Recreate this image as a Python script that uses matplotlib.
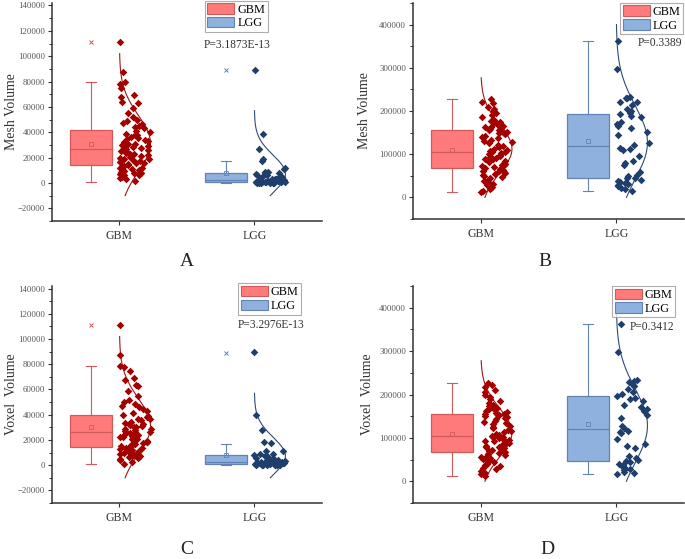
import matplotlib
matplotlib.use("Agg")
import matplotlib.pyplot as plt
import numpy as np
from matplotlib.patches import Patch
from matplotlib.ticker import MultipleLocator

plt.rcParams["font.family"] = ["Liberation Serif", "DejaVu Serif"]

groups = ["GBM", "LGG"]

# ---- A: Mesh Volume (small scale) ----
gbm_mesh_a = [111500, 87500, 79500, 78000, 75000, 69000, 68000, 64000, 63000, 59000,
              55000, 52000, 50000, 49000, 47500, 46500, 45000, 44000, 43000,
              41000, 40000, 39000, 38000, 37500, 36500, 35500, 34500, 33500, 33000,
              32000, 31000, 30500, 30000, 29000, 28500, 28000, 27500, 27000,
              26000, 25500, 25000, 24000, 23000, 22500, 22000, 21000, 20500, 20000,
              19000, 18500, 18000, 17500, 17000, 16500, 16000, 15500, 15000,
              14000, 13500, 13000, 12000, 11500, 11000, 10500, 10000, 9500, 9000,
              8000, 7500, 7000, 6500, 6000, 5000, 4000, 3000, 1500]
lgg_mesh_a = [89000, 38500, 27000, 18500, 17500, 11500, 11000, 9000, 8500, 8000,
              7500, 7000, 6500, 6000, 5000, 4500, 4000, 3500, 3000, 2800, 2500,
              2300, 2000, 2000, 1800, 1600, 1500, 1400, 1200, 1100, 1000, 1000,
              900, 800, 700, 600, 500, 400, 300, 300, 200, 100, 100, 0]
# box stats
gbm_box_a = dict(q1=14400, med=26700, q3=42100, whislo=1000, whishi=79700,
                 mean=30800, fliers=[111500])
lgg_box_a = dict(q1=1000, med=2100, q3=7800, whislo=-300, whishi=17000,
                 mean=7600, fliers=[89000])

# ---- B: Mesh Volume (large scale) ----
gbm_mesh_b = [13000, 16000, 20000, 24000, 28000, 31000, 35000, 38000, 41000, 44000,
              47000, 50000, 52000, 54000, 56000, 58000, 60000, 62000, 64000, 66000,
              68000, 70000, 72000, 74000, 76000, 78000, 80000, 82000, 84000, 86000,
              88000, 90000, 92000, 94000, 96000, 98000, 100000, 102000, 104000, 105000,
              107000, 110000, 113000, 116000, 119000, 122000, 125000, 128000, 131000,
              134000, 137000, 140000, 143000, 146000, 148000, 150000, 152000, 154000,
              155000, 156000, 158000, 160000, 162000, 164000, 166000, 168000, 170000,
              172000, 174000, 176000, 180000, 185000, 190000, 195000, 200000, 205000,
              210000, 218000, 222000, 227000]
lgg_mesh_b = [362000, 298000, 233000, 231000, 229000, 222000, 220000, 213000, 205000,
              200000, 196000, 192000, 188000, 185000, 175000, 170000, 165000, 160000,
              152000, 145000, 126000, 122000, 115000, 112000, 110000, 96000, 85000,
              80000, 76000, 58000, 52000, 49000, 46000, 44000, 40000, 38000, 36000,
              33000, 31000, 29000, 26000, 22000, 19000, 16000]
gbm_box_b = dict(q1=67000, med=105600, q3=156500, whislo=13000, whishi=227000,
                 mean=109000, fliers=[])
lgg_box_b = dict(q1=45500, med=120000, q3=194000, whislo=16000, whishi=362000,
                 mean=129500, fliers=[])

# ---- C: Voxel Volume (small scale) ----
gbm_voxel_c = [111000, 87500, 79000, 77500, 75000, 69000, 67500, 63500, 62500, 58500,
               54500, 51500, 50000, 48500, 47000, 46000, 44500, 43000, 41000,
               40000, 39000, 38000, 37000, 36500, 35500, 34500, 33500, 33000, 32500,
               32000, 31000, 30500, 30000, 29000, 28500, 28000, 27000, 26500,
               26000, 25500, 25000, 24000, 23000, 22500, 22000, 21000, 20500, 20000,
               19000, 18500, 18000, 17500, 17000, 16500, 16000, 15500, 15000,
               14000, 13500, 13000, 12000, 11500, 11000, 10500, 10000, 9500, 9000,
               8000, 7500, 7000, 6500, 6000, 5000, 4000, 2500, 1300]
lgg_voxel_c = [89500, 39500, 27500, 18500, 17500, 11500, 11000, 9000, 8500, 8000,
               7500, 7000, 6500, 6000, 5000, 4500, 4000, 3500, 3000, 2800, 2600,
               2400, 2200, 2000, 1800, 1600, 1500, 1400, 1300, 1200, 1000, 1000,
               900, 800, 700, 600, 500, 400, 300, 300, 200, 100, 100, 0]
gbm_box_c = dict(q1=14300, med=26500, q3=39700, whislo=1300, whishi=79000,
                 mean=30600, fliers=[111000])
lgg_box_c = dict(q1=1300, med=2600, q3=7800, whislo=0, whishi=16900,
                 mean=7800, fliers=[89000])

# ---- D: Voxel Volume (large scale) ----
gbm_voxel_d = [12000, 16000, 20000, 24000, 28000, 31000, 35000, 38000, 41000, 44000,
               47000, 50000, 52000, 54000, 56000, 58000, 60000, 62000, 64000, 66000,
               68000, 70000, 72000, 74000, 76000, 78000, 80000, 82000, 84000, 86000,
               88000, 90000, 92000, 94000, 96000, 98000, 100000, 102000, 103000, 104500,
               107000, 110000, 113000, 116000, 119000, 122000, 125000, 128000, 131000,
               134000, 137000, 140000, 143000, 146000, 148000, 150000, 152000, 153000,
               154500, 155500, 158000, 160000, 162000, 164000, 166000, 168000, 170000,
               172000, 174000, 176000, 180000, 185000, 190000, 195000, 200000, 205000,
               210000, 218000, 221000, 226000]
lgg_voxel_d = [362000, 298000, 233000, 231000, 229000, 222000, 220000, 213000, 206000,
               201000, 197000, 193000, 189000, 186000, 176000, 171000, 166000, 161000,
               153000, 146000, 127000, 123000, 116000, 113000, 111000, 97000, 86000,
               81000, 77000, 58000, 53000, 50000, 47000, 45000, 41000, 38000, 36000,
               33000, 31000, 29000, 26000, 22000, 19000, 17000]
gbm_box_d = dict(q1=67000, med=105000, q3=155700, whislo=11600, whishi=226600,
                 mean=109400, fliers=[])
lgg_box_d = dict(q1=46200, med=121000, q3=195800, whislo=17000, whishi=362000,
                 mean=131000, fliers=[])

# range over which the fitted normal curves are drawn
curve_a = [(-10000, 102000), (-10000, 57000)]
curve_b = [(0, 277000), (0, 400000)]
curve_c = [(-10000, 102000), (-10000, 57000)]
curve_d = [(0, 278000), (0, 392000)]

p_values = ["P=3.1873E-13", "P=0.3389", "P=3.2976E-13", "P=0.3412"]
panel_letters = ["A", "B", "C", "D"]

box_face = ["#FF7B7B", "#8EB1DE"]
box_edge = ["#D05A5A", "#6283B5"]
point_col = ["#A30000", "#1E3E6C"]
curve_col = ["#A31515", "#2F4C78"]

rng = np.random.default_rng(11)


def draw_panel(ax, data, stats, curves, ylabel, ylabel_x, ptext, ptext_xy, leg_xy,
               ylim, major, minor):
    positions = np.array([1, 2])
    for i, (vals, st, (lo, hi)) in enumerate(zip(data, stats, curves)):
        vals = np.asarray(vals, dtype=float)
        mu, sd = vals.mean(), vals.std(ddof=1)

        def width(y):
            return 0.23 * np.exp(-0.5 * ((y - mu) / sd) ** 2)

        # box
        ax.bxp([st], positions=[positions[i] - 0.21], widths=0.31,
               patch_artist=True, showmeans=True, capwidths=0.075,
               boxprops=dict(facecolor=box_face[i], edgecolor=box_edge[i], linewidth=0.9),
               medianprops=dict(color=box_edge[i], linewidth=0.9),
               whiskerprops=dict(color=box_edge[i], linewidth=0.8),
               capprops=dict(color=box_edge[i], linewidth=0.8),
               meanprops=dict(marker="s", markersize=3, markerfacecolor="none",
                              markeredgecolor=box_edge[i], markeredgewidth=0.6),
               flierprops=dict(marker="x", markersize=3, markeredgecolor=box_edge[i],
                               markeredgewidth=0.7))

        # jittered points, spread follows the distribution curve
        spread = 0.24 * np.sqrt(width(vals) / 0.23)
        jit = rng.uniform(0.0, 1.0, len(vals)) * np.maximum(spread, 0.01)
        ax.scatter(positions[i] + jit, vals, marker="D", s=15, color=point_col[i],
                   linewidths=0, zorder=3)

        # normal curve
        yy = np.linspace(lo, hi, 300)
        ax.plot(positions[i] + width(yy), yy, color=curve_col[i], linewidth=0.8, zorder=2)

    ax.set_xlim(0.5, 2.5)
    ax.set_ylim(*ylim)
    ax.set_xticks(positions)
    ax.set_xticklabels(groups, fontsize=8.5, color="#333333")
    ax.yaxis.set_major_locator(MultipleLocator(major))
    ax.yaxis.set_minor_locator(MultipleLocator(minor))
    ax.tick_params(axis="y", which="major", labelsize=6.3, length=3, width=0.8,
                   colors="#333333", pad=2)
    ax.tick_params(axis="y", which="major", labelcolor="#555555")
    ax.tick_params(axis="y", which="minor", length=2, width=0.7, colors="#333333")
    ax.tick_params(axis="x", length=3, width=0.8, colors="#333333")
    ax.set_ylabel(ylabel, fontsize=10, color="#333333")
    ax.yaxis.set_label_coords(ylabel_x, 0.5)
    for side in ["top", "right"]:
        ax.spines[side].set_visible(False)
    for side in ["left", "bottom"]:
        ax.spines[side].set_color("#333333")
        ax.spines[side].set_linewidth(1.1)

    handles = [Patch(facecolor=box_face[k], edgecolor=box_edge[k], linewidth=0.8,
                     label=groups[k]) for k in range(2)]
    leg = ax.legend(handles=handles, loc="upper left", bbox_to_anchor=leg_xy,
                    fontsize=8.8, frameon=True, fancybox=False, borderpad=0.2,
                    handlelength=2.2, handleheight=0.95, handletextpad=0.25,
                    labelspacing=0.1, borderaxespad=0)
    leg.get_frame().set_edgecolor("#999999")
    leg.get_frame().set_linewidth(0.8)

    ax.text(ptext_xy[0], ptext_xy[1], ptext, transform=ax.transAxes, fontsize=8.3,
            ha="center", va="center", color="#333333")


fig = plt.figure(figsize=(6.85, 5.59), dpi=100)
axA = fig.add_axes([0.0759, 0.6047, 0.394, 0.390])
axB = fig.add_axes([0.603, 0.6082, 0.3956, 0.3864])
axC = fig.add_axes([0.0759, 0.1002, 0.394, 0.388])
axD = fig.add_axes([0.603, 0.1002, 0.3956, 0.388])

draw_panel(axA, [gbm_mesh_a, lgg_mesh_a], [gbm_box_a, lgg_box_a], curve_a,
           "Mesh Volume", -0.126, p_values[0], (0.685, 0.807), (0.567, 1.01),
           (-30000, 142000), 20000, 10000)
draw_panel(axB, [gbm_mesh_b, lgg_mesh_b], [gbm_box_b, lgg_box_b], curve_b,
           "Mesh Volume", -0.154, p_values[1], (0.91, 0.815), (0.765, 1.0),
           (-50000, 450000), 100000, 50000)
draw_panel(axC, [gbm_voxel_c, lgg_voxel_c], [gbm_box_c, lgg_box_c], curve_c,
           "Voxel  Volume", -0.126, p_values[2], (0.81, 0.822), (0.69, 1.012),
           (-30000, 142000), 20000, 10000)
draw_panel(axD, [gbm_voxel_d, lgg_voxel_d], [gbm_box_d, lgg_box_d], curve_d,
           "Voxel  Volume", -0.143, p_values[3], (0.88, 0.812), (0.735, 1.0),
           (-50000, 450000), 100000, 50000)

# panel letters
letter_xy = [(187, 262), (545, 262), (187, 550), (547, 550)]
for letter, (px, py) in zip(panel_letters, letter_xy):
    fig.text(px / 685, 1 - py / 559, letter, fontsize=14, ha="center", va="center",
             color="#222222")

fig.savefig("out.png", dpi=100)
